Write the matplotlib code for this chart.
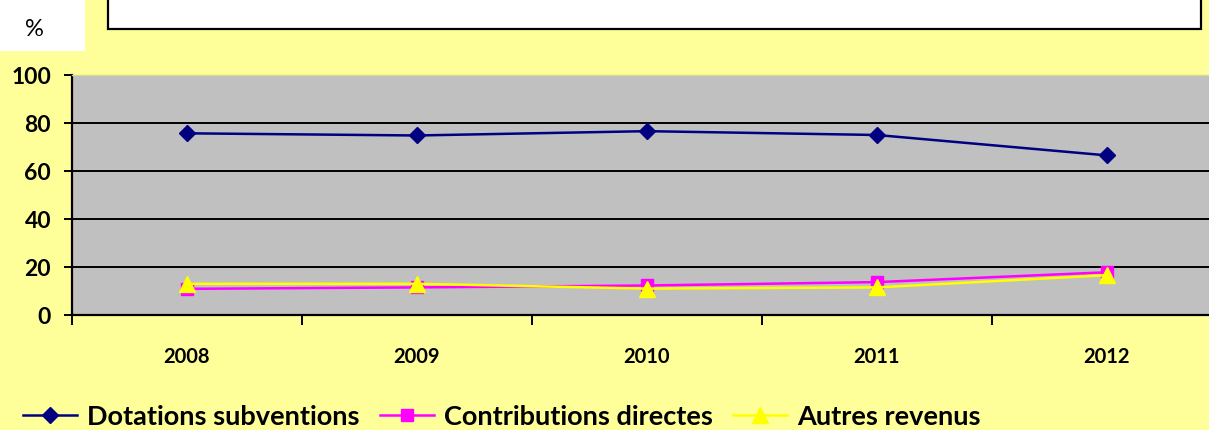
import numpy as np
import matplotlib
matplotlib.use("Agg")
import matplotlib.pyplot as plt
from matplotlib.patches import Rectangle
from matplotlib.lines import Line2D

# data
years = ["2008", "2009", "2010", "2011", "2012"]
dotations = [75.7, 74.8, 76.6, 75.0, 66.5]
contributions = [10.9, 11.5, 12.3, 13.7, 17.8]
autres = [13.0, 13.0, 11.0, 11.5, 16.6]
series_names = ["Dotations subventions", "Contributions directes", "Autres revenus"]
yticks = [0, 20, 40, 60, 80, 100]

plt.rcParams['font.family'] = ['Lato', 'DejaVu Sans']

W, H = 1209, 431
fig = plt.figure(figsize=(W/100, H/100), dpi=100)
fig.patch.set_facecolor("#FFFF99")

# plot area : x 72 -> 1222 px (runs past the right edge), y 76 -> 316 px
ax = fig.add_axes([72/W, (H-316)/H, 1150/W, 240/H])
ax.set_facecolor("#C0C0C0")

x = np.arange(len(years))
ax.plot(x, dotations, color="#000080", lw=1.8, marker="D", ms=8, mec="#000080", mfc="#000080")
ax.plot(x, contributions, color="#FF00FF", lw=1.8, marker="s", ms=9, mec="#FF00FF", mfc="#FF00FF")
ax.plot(x, autres, color="#FFFF00", lw=1.8, marker="^", ms=11, mec="#FFFF00", mfc="#FFFF00")

ax.set_xlim(-0.5, len(years)-0.5)
ax.set_ylim(0, 100)
ax.set_yticks(yticks)
ax.set_yticklabels([str(v) for v in yticks], fontsize=16.5, fontweight="bold")
for v in yticks[1:-1]:
    ax.axhline(v, color="black", lw=1.4, zorder=1)

ax.set_xticks(x)
ax.set_xticklabels(years, fontsize=14.5, fontweight="bold")
ax.set_xticks(np.arange(-0.5, len(years), 1.0), minor=True)
ax.tick_params(axis="x", which="major", length=0, pad=22)
ax.tick_params(axis="x", which="minor", length=7, width=1.4, direction="out")
ax.tick_params(axis="y", length=6, width=1.4, pad=9)

for s in ["left", "bottom"]:
    ax.spines[s].set_linewidth(1.6)
    ax.spines[s].set_color("black")
ax.spines["right"].set_visible(False)
ax.spines["top"].set_color("#D8D890")
ax.spines["top"].set_linewidth(1.0)

# "%" label box in the top-left corner
fig.patches.append(Rectangle((0, (H-52)/H), 85/W, 52/H, transform=fig.transFigure,
                             facecolor="white", edgecolor="none", zorder=0))
fig.text(34/W, 1-29/H, "%", fontsize=17, ha="center", va="center")

# title box (its text is above the visible area)
fig.patches.append(Rectangle((108/W, (H-30)/H), 1093/W, 40/H, transform=fig.transFigure,
                             facecolor="white", edgecolor="black", lw=1.6, zorder=0))

handles = [
    Line2D([], [], color="#000080", lw=1.8, marker="D", ms=8),
    Line2D([], [], color="#FF00FF", lw=1.8, marker="s", ms=9),
    Line2D([], [], color="#FFFF00", lw=1.8, marker="^", ms=11),
]
leg = fig.legend(handles, series_names, loc="center left", bbox_to_anchor=(12/W, 1-417/H),
                 ncol=3, frameon=False, prop={"size": 19.5, "weight": "bold"},
                 handlelength=2.0, handletextpad=0.37, columnspacing=0.74, borderaxespad=0)

fig.savefig("out.png", dpi=100, facecolor=fig.get_facecolor())
